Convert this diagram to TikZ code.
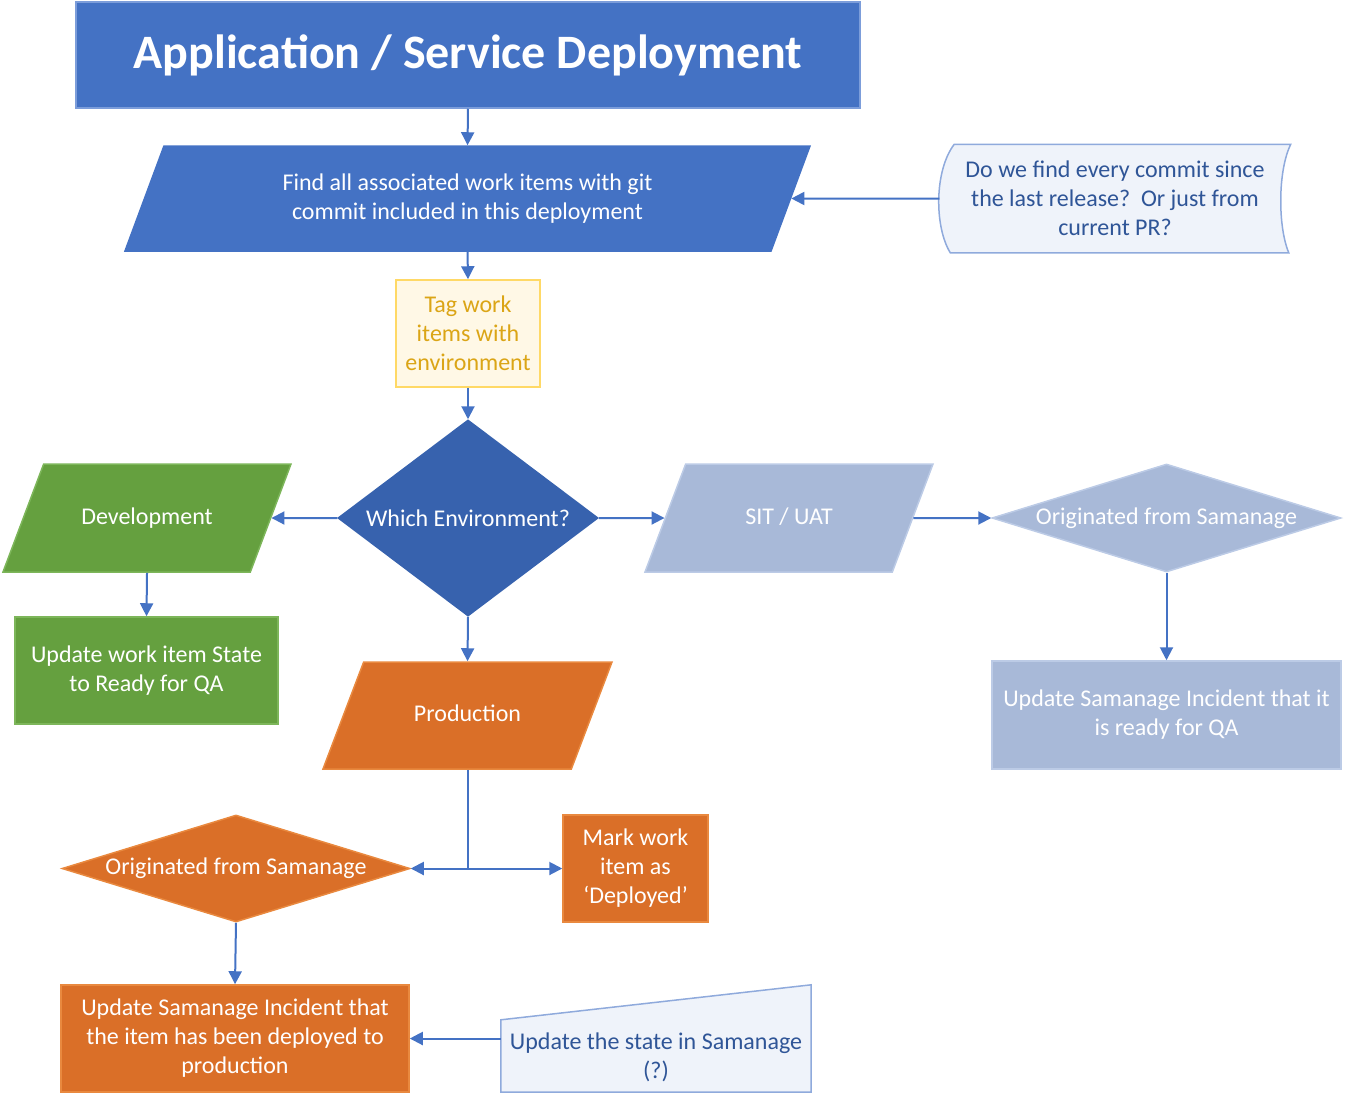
\documentclass[tikz,border=0pt]{standalone}
\usepackage{fontspec}
\setmainfont{Carlito}
\usepackage{tikz}
\usetikzlibrary{shapes.geometric, arrows.meta, calc, backgrounds}
\definecolor{flowblue}{HTML}{4472C4}
\definecolor{titleedge}{HTML}{7C9DDA}
\definecolor{whichblue}{HTML}{3762AE}
\definecolor{devgreen}{HTML}{65A03F}
\definecolor{devedge}{HTML}{7DB65A}
\definecolor{sitgray}{HTML}{A8B9D8}
\definecolor{sitedge}{HTML}{BCCBE6}
\definecolor{prodorange}{HTML}{DA6F28}
\definecolor{prodedge}{HTML}{E9893F}
\definecolor{notefill}{HTML}{EFF3FA}
\definecolor{noteedge}{HTML}{8FAADC}
\definecolor{notetext}{HTML}{2F5597}
\definecolor{tagfill}{HTML}{FFF8E6}
\definecolor{tagedge}{HTML}{FFD966}
\definecolor{tagtext}{HTML}{DBA516}

\tikzset{
  base/.style={font=\fontsize{24}{29}\selectfont, text=white, align=center, inner sep=0pt, line width=1.5pt},
  box/.style={base, rectangle},
  datain/.style={base, trapezium, trapezium left angle=69, trapezium right angle=111, trapezium stretches body, inner ysep=26pt},
  oneline/.style={text height=17pt, text depth=5pt, inner ysep=42pt},
  decide/.style={base, diamond},
  note/.style={base, text=notetext},
  line/.style={draw=flowblue, line width=2pt},
  arrow/.style={line, -{Triangle[length=13pt,width=13pt]}},
}

\begin{document}
\begin{tikzpicture}[x=1pt, y=-1pt]
    \useasboundingbox (0,0) rectangle (1349,1098);
    %top of the flow
    \node[box, fill=flowblue, draw=titleedge, minimum width=784pt, minimum height=106pt, font=\fontsize{48}{58}\selectfont\bfseries] (title) at (468,55) {Application / Service Deployment};
    \node[datain, fill=flowblue, draw=flowblue, minimum width=685pt, minimum height=105pt] (find) at (467.5,198.5) {Find all associated work items with git\\commit included in this deployment};
    \node[note, minimum width=350pt, minimum height=107pt] (question) at (1115,198.5) {Do we find every commit since\\the last release?\ \ Or just from\\current PR?};
    \node[box, fill=tagfill, draw=tagedge, text=tagtext, minimum width=144pt, minimum height=107pt] (tag) at (468,333.5) {Tag work\\items with\\environment};
    \node[decide, aspect=1.33, fill=whichblue, draw=whichblue, minimum width=260pt, minimum height=196pt] (which) at (468,518) {Which Environment?};
    %development
    \node[datain, oneline, fill=devgreen, draw=devedge, minimum width=288pt, minimum height=108pt] (dev) at (147,518) {Development};
    \node[box, fill=devgreen, draw=devedge, minimum width=263pt, minimum height=107pt] (devdone) at (146.5,670.5) {Update work item State\\to Ready for QA};
    %sit / uat
    \node[datain, oneline, fill=sitgray, draw=sitedge, minimum width=288pt, minimum height=108pt] (sit) at (789,518) {SIT / UAT};
    \node[decide, aspect=3.23, fill=sitgray, draw=sitedge, minimum width=349pt, minimum height=108pt] (sitorig) at (1166.5,518) {Originated from Samanage};
    \node[box, fill=sitgray, draw=sitedge, minimum width=349pt, minimum height=108pt] (sitdone) at (1166.5,715) {Update Samanage Incident that it\\is ready for QA};
    %production
    \node[datain, oneline, fill=prodorange, draw=prodedge, minimum width=289pt, minimum height=107pt] (prod) at (467.5,715.5) {Production};
    \node[box, fill=prodorange, draw=prodedge, minimum width=145pt, minimum height=107pt] (mark) at (635.5,868.5) {Mark work\\item as\\‘Deployed’};
    \node[decide, aspect=3.25, fill=prodorange, draw=prodedge, minimum width=348pt, minimum height=107pt] (prodorig) at (236,868.5) {Originated from Samanage};
    \node[box, fill=prodorange, draw=prodedge, minimum width=348pt, minimum height=107pt] (proddone) at (235,1038.5) {Update Samanage Incident that\\the item has been deployed to\\production};
    \node[minimum width=310pt, minimum height=107pt, inner sep=0pt] (stateq) at (656,1038.5) {};
    \node[note] (stateqtext) at (656,1057) {Update the state in Samanage\\(?)};
    %the note outlines
    \begin{scope}[on background layer]
    \filldraw[fill=notefill, draw=noteedge, line width=1.5pt] ($(question.north west)+(15,0)$) -- (question.north east)
        .. controls ($(question.east)+(-13,-28)$) and ($(question.east)+(-13,28)$) .. ($(question.south east)+(-2,0)$)
        -- ($(question.south west)+(11,0)$)
        .. controls ($(question.west)+(-5,28)$) and ($(question.west)+(-5,-28)$) .. cycle;
    \filldraw[fill=notefill, draw=noteedge, line width=1.5pt] ($(stateq.north west)+(0,35)$) -- (stateq.north east) -- (stateq.south east) -- (stateq.south west) -- cycle;
    \end{scope}
    %the connectors
    \draw[arrow] (title.south) -- (find.north);
    \draw[arrow] (question.west) -- (find.east);
    \draw[arrow] (find.south) -- (tag.north);
    \draw[arrow] (tag.south) -- (which.north);
    \draw[arrow] (which.west) -- (dev.east);
    \draw[arrow] (dev.south) -- (devdone.north);
    \draw[arrow] (which.east) -- (sit.west);
    \draw[arrow] (sit.east) -- (sitorig.west);
    \draw[arrow] (sitorig.south) -- (sitdone.north);
    \draw[arrow] (which.south) -- (prod.north);
    \coordinate (split) at (prod.south |- mark.west);
    \draw[line] (prod.south) -- (split);
    \draw[arrow] (split) -- (prodorig.east);
    \draw[arrow] (split) -- (mark.west);
    \draw[arrow] (prodorig.south) -- (proddone.north);
    \draw[arrow] (stateq.west) -- (proddone.east);
\end{tikzpicture}
\end{document}
